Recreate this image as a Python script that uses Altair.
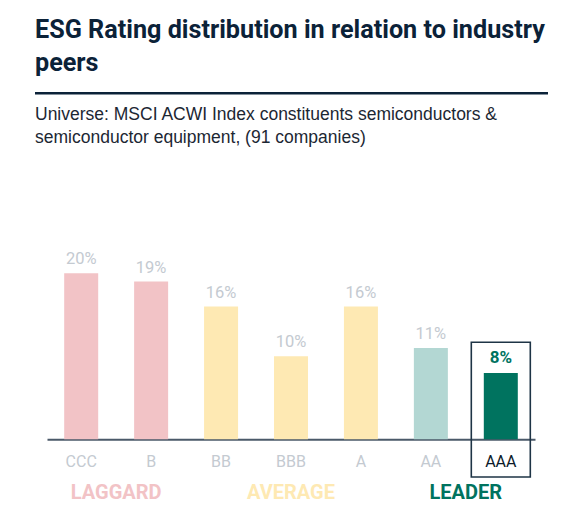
import altair as alt
import pandas as pd

# ---- data ----
ratings = ["CCC", "B", "BB", "BBB", "A", "AA", "AAA"]
shares = [20, 19, 16, 10, 16, 11, 8]
bar_colors = ["#f2c3c6", "#f2c3c6", "#fee9b3", "#fee9b3", "#fee9b3", "#b3d7d3", "#00735f"]
tier_names = ["LAGGARD", "AVERAGE", "LEADER"]
tier_first = ["CCC", "BB", "AA"]
tier_last = ["B", "A", "AAA"]
tier_colors = ["#f2c3c6", "#fee9b3", "#00735f"]
highlight = "AAA"
title_lines = ["ESG Rating distribution in relation to industry", "peers"]
subtitle_lines = [
    "Universe: MSCI ACWI Index constituents semiconductors &",
    "semiconductor equipment, (91 companies)",
]

# ---- layout ----
W, H = 488, 166
P_INNER, P_OUTER = 0.51, 0.244
STEP = W / (len(ratings) - P_INNER + 2 * P_OUTER)
NAVY = "#0b2238"
GREY = "#c4cad1"
TEAL = "#00735f"

df = pd.DataFrame({"rating": ratings, "share": shares})
df["label"] = df["share"].astype(str) + "%"
df["hi"] = df["rating"] == highlight

xs = alt.Scale(domain=ratings, paddingInner=P_INNER, paddingOuter=P_OUTER)
ys = alt.Scale(domain=[0, 20], nice=False, zero=True)

x_axis = alt.Axis(
    title=None, labelAngle=0, ticks=False, tickSize=0, labelPadding=14,
    labelFont="Roboto", labelFontSize=16,
    labelColor={"condition": {"test": f"datum.value === '{highlight}'", "value": "#0b1a2a"}, "value": GREY},
    domainColor="#4a5969", domainWidth=2, grid=False,
)

base = alt.Chart(df)

bars = base.mark_bar(size=34).encode(
    x=alt.X("rating:N", scale=xs, axis=x_axis, sort=ratings),
    y=alt.Y("share:Q", scale=ys, axis=None),
    color=alt.Color("rating:N", scale=alt.Scale(domain=ratings, range=bar_colors), legend=None),
)

labels = base.transform_filter("!datum.hi").mark_text(
    baseline="alphabetic", dy=-9, font="Roboto", fontSize=16.5, color=GREY
).encode(x=alt.X("rating:N", sort=ratings), y="share:Q", text="label:N")

hi_label = base.transform_filter("datum.hi").mark_text(
    baseline="alphabetic", dy=-9.5, font="Roboto", fontSize=17, fontWeight="bold", color=TEAL
).encode(x=alt.X("rating:N", sort=ratings), y="share:Q", text="label:N")

box = base.transform_filter("datum.hi").mark_bar(
    size=59, filled=False, stroke="#1e3446", strokeWidth=1.6
).encode(x=alt.X("rating:N", sort=ratings), y=alt.datum(11.7), y2=alt.datum(-4.55))

tier_layers = []
for name, first, last, col in zip(tier_names, tier_first, tier_last, tier_colors):
    i0, i1 = ratings.index(first), ratings.index(last)
    mid = (i0 + i1) / 2
    anchor = ratings[int(mid)]
    dx = (mid - int(mid)) * STEP
    tier_layers.append(
        alt.Chart(pd.DataFrame({"rating": [anchor], "tier": [name]})).mark_text(
            baseline="alphabetic", dx=dx, font="Roboto", fontSize=20, fontWeight="bold", color=col
        ).encode(x=alt.X("rating:N", sort=ratings), y=alt.value(226), text="tier:N")
    )

one = pd.DataFrame({"a": [0]})
rule = alt.Chart(one).mark_rule(color=NAVY, strokeWidth=2.5).encode(
    x=alt.value(-12), x2=alt.value(501), y=alt.value(-180)
)
subtitle = alt.Chart(one).mark_text(
    align="left", baseline="alphabetic", font="Liberation Sans", fontSize=17.5,
    lineHeight=23, color="#1c2733"
).encode(x=alt.value(-12), y=alt.value(-153.3), text=alt.value(subtitle_lines))

chart = alt.layer(bars, labels, hi_label, box, *tier_layers, rule, subtitle).properties(
    width=W, height=H,
    padding={"left": 39, "top": 265.3, "right": 42, "bottom": 65.7},
    autosize=alt.AutoSizeParams(type="none"),
    background="white",
    title=alt.TitleParams(
        text=title_lines, anchor="start", frame="group", dx=-12, offset=16,
        font="Roboto", fontSize=25.2, fontWeight="bold", color=NAVY, lineHeight=32.6,
    ),
).configure_view(strokeWidth=0)

chart.save("out.html", embed_options={"renderer": "svg", "actions": False})
